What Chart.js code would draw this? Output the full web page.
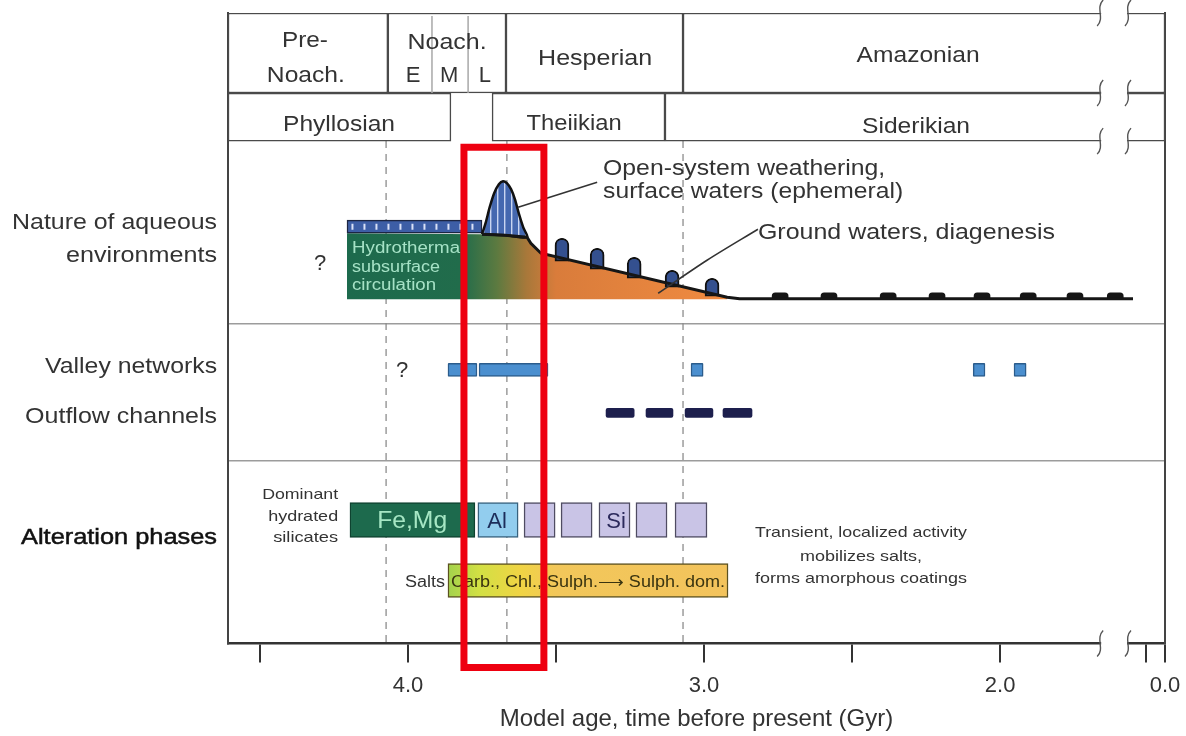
<!DOCTYPE html>
<html>
<head>
<meta charset="utf-8">
<script src="https://cdn.jsdelivr.net/npm/chart.js@4.4.1/dist/chart.umd.min.js"></script>
<style>
  html, body { margin: 0; padding: 0; background: #fff; }
  #wrap { width: 1186px; height: 736px; }
</style>
</head>
<body>
<div id="wrap"><canvas id="marsChart" width="1186" height="736"></canvas></div>
<script>
// Ages in Gyr (x axis is broken near the young end)
const axisMin = 1.443, axisMax = 4.608;
const tickValues = [4.5, 4.0, 3.5, 3.0, 2.5, 2.0, 1.507, 1.443];
const tickLabels = ['', '4.0', '', '3.0', '', '2.0', '', '0.0'];
const axisBreak = [1.662, 1.568];

const eraNames = ['Pre-Noach.', 'Noach.', 'Hesperian', 'Amazonian'];
const eraSpans = [[4.608, 4.068], [4.068, 3.669], [3.669, 3.071], [3.071, 1.443]];
const noachSubBounds = [3.919, 3.797];
const epochNames = ['Phyllosian', 'Theiikian', 'Siderikian'];
const epochSpans = [[4.608, 3.855], [3.716, 3.132], [3.132, 1.443]];
const boundaryAges = [4.074, 3.666, 3.071];

// aqueous environments profile: [age, level] (level grows downwards)
const hydroStrip = [4.206, 3.750];
const aqueousShape = [[4.206, 220], [3.750, 221], [3.672, 222], [3.598, 224], [3.585, 230], [3.551, 240],
  [2.922, 284], [2.922, 286], [4.206, 286], [4.206, 220]];
const groundLine = [[3.750, 221], [3.672, 222], [3.598, 224], [3.585, 230], [3.551, 240], [2.922, 284],
  [2.880, 285.5], [1.551, 285.5]];
const weatheringPeak = [[3.750, 221], [3.738, 210], [3.724, 194], [3.709, 180], [3.693, 171], [3.679, 168],
  [3.666, 170], [3.652, 176], [3.639, 186], [3.625, 201], [3.611, 214], [3.598, 224], [3.672, 222], [3.750, 221]];
const domeAges = [3.480, 3.361, 3.236, 3.108, 2.973];
const domeBase = [248, 256, 265, 274, 283];
const domeTop = [225, 235, 244, 257, 265];
const humpAges = [2.743, 2.578, 2.378, 2.213, 2.061, 1.905, 1.747, 1.611];
const humpBase = 286.5, humpTop = 279.5;

const valleySpans = [[3.865, 3.767], [3.760, 3.527], [3.044, 3.003], [2.091, 2.051], [1.953, 1.912]];
const outflowSpans = [[3.331, 3.236], [3.196, 3.105], [3.064, 2.970], [2.936, 2.838]];
const silicateNames = ['Fe,Mg', 'Al', '', '', 'Si', '', ''];
const silicateSpans = [[4.196, 3.774], [3.764, 3.628], [3.608, 3.503], [3.483, 3.378], [3.355, 3.250], [3.230, 3.125], [3.098, 2.990]];
const saltSpan = [3.865, 2.919];
const highlightAges = [3.811, 3.541];

// layout: vertical lanes (y units, 0 = top of frame)
const lanes = { era: 40, epoch: 104, strip: 213.5, valley: 356.5, outflow: 399.5, silicate: 506.5, salt: 567 };
const panelLines = [310, 447];
const breakRows = [0, 80, 128, 630];
const FONT = '"Liberation Sans", Arial, Helvetica, sans-serif';

const aqueousStops = [[4.206, '#1d6a4d'], [3.818, '#216c4b'], [3.70, '#5c7a40'], [3.60, '#a8783a'], [3.50, '#d97c3b'], [2.95, '#ef8a40']];
const saltStops = [[3.865, '#a3d24c'], [3.76, '#d2e044'], [3.62, '#f0d444'], [3.50, '#f2c75a'], [2.919, '#f3c35c']];

const annotations = [
  { text: 'Pre-', at: [4.348, 34], size: 22, align: 'center', width: 46 },
  { text: 'Noach.', at: [4.345, 69], size: 22, align: 'center', width: 78 },
  { text: 'Noach.', at: [3.868, 36], size: 22, align: 'center', width: 79 },
  { text: 'E', at: [3.983, 69], size: 22, align: 'center' },
  { text: 'M', at: [3.861, 69], size: 22, align: 'center' },
  { text: 'L', at: [3.740, 69], size: 22, align: 'center' },
  { text: 'Hesperian', at: [3.368, 52], size: 22, align: 'center', width: 114 },
  { text: 'Amazonian', at: [2.277, 49], size: 22, align: 'center', width: 123 },
  { text: 'Phyllosian', at: [4.233, 118], size: 22, align: 'center', width: 112 },
  { text: 'Theiikian', at: [3.439, 117], size: 22, align: 'center', width: 95 },
  { text: 'Siderikian', at: [2.284, 120], size: 22, align: 'center', width: 108 },
  { text: 'Nature of aqueous', at: [4.645, 216], size: 22, align: 'right', width: 205 },
  { text: 'environments', at: [4.645, 249], size: 22, align: 'right', width: 151 },
  { text: 'Valley networks', at: [4.645, 360], size: 22, align: 'right', width: 172 },
  { text: 'Outflow channels', at: [4.645, 410], size: 22, align: 'right', width: 192 },
  { text: 'Alteration phases', at: [4.645, 530], size: 22, align: 'right', width: 196, color: '#111', stroke: 0.5 },
  { text: '?', at: [4.297, 257], size: 22, align: 'center' },
  { text: '?', at: [4.020, 364], size: 22, align: 'center' },
  { text: 'Open-system weathering,', at: [3.341, 162], size: 22, align: 'left', width: 282 },
  { text: 'surface waters (ephemeral)', at: [3.341, 185], size: 22, align: 'left', width: 300 },
  { text: 'Ground waters, diagenesis', at: [2.818, 226], size: 22, align: 'left', width: 297 },
  { text: 'Hydrotherma', at: [4.189, 240], size: 16, align: 'left', width: 108, color: '#a6e2c6' },
  { text: 'subsurface', at: [4.189, 259], size: 16, align: 'left', width: 88, color: '#a6e2c6' },
  { text: 'circulation', at: [4.189, 277], size: 16, align: 'left', width: 84, color: '#a6e2c6' },
  { text: 'Dominant', at: [4.236, 486], size: 15, align: 'right', width: 76 },
  { text: 'hydrated', at: [4.236, 508], size: 15, align: 'right', width: 70 },
  { text: 'silicates', at: [4.236, 528], size: 15, align: 'right', width: 65 },
  { text: 'Fe,Mg', at: [3.986, 515], size: 23, align: 'center', width: 70, color: '#a6e6c4' },
  { text: 'Al', at: [3.699, 515], size: 22, align: 'center', color: '#1c2d5a' },
  { text: 'Si', at: [3.297, 515], size: 22, align: 'center', color: '#2c2a5c' },
  { text: 'Salts', at: [3.875, 573], size: 16, align: 'right', width: 40 },
  { text: 'Carb., Chl., Sulph.\u27F6 Sulph. dom.', at: [3.855, 573], size: 16, align: 'left', width: 274, color: '#3a3410' },
  { text: 'Transient, localized activity', at: [2.470, 524], size: 15, align: 'center', width: 212 },
  { text: 'mobilizes salts,', at: [2.470, 547], size: 15, align: 'center', width: 122 },
  { text: 'forms amorphous coatings', at: [2.470, 569], size: 15, align: 'center', width: 212 }
];

const leaderOpen = [[3.628, 194], [3.361, 169]];
const leaderGround = [[3.155, 280], [2.990, 247], [2.818, 216]];

// helpers
function pts(list) { return list.map(p => ({ x: p[0], y: p[1] })); }
function vline(age, top, bottom) { return [{ x: age, y: top }, { x: age, y: bottom }]; }
function spanBars(spans, lane) { return spans.map(s => ({ x: s, y: lane })); }

function hGradient(chart, stops, fallback) {
  if (!chart.chartArea) return fallback;
  const xs = chart.scales.x;
  const x0 = xs.getPixelForValue(stops[0][0]);
  const x1 = xs.getPixelForValue(stops[stops.length - 1][0]);
  const g = chart.ctx.createLinearGradient(x0, 0, x1, 0);
  stops.forEach(s => g.addColorStop(Math.min(1, Math.max(0, (xs.getPixelForValue(s[0]) - x0) / (x1 - x0))), s[1]));
  return g;
}

let stripePattern = null;
function getStripes(ctx) {
  if (stripePattern) return stripePattern;
  const pc = document.createElement('canvas');
  pc.width = 7; pc.height = 4;
  const g = pc.getContext('2d');
  g.fillStyle = '#4568b0';
  g.fillRect(0, 0, 7, 4);
  g.fillStyle = 'rgba(215,225,248,0.9)';
  g.fillRect(0, 0, 1.4, 4);
  stripePattern = ctx.createPattern(pc, 'repeat');
  return stripePattern;
}

function drawLabel(chart, a) {
  const ctx = chart.ctx;
  const px = chart.scales.x.getPixelForValue(a.at[0]);
  const py = chart.scales.y.getPixelForValue(a.at[1]);
  ctx.save();
  ctx.font = a.size + 'px ' + FONT;
  ctx.fillStyle = a.color || '#333';
  ctx.textBaseline = 'alphabetic';
  ctx.textAlign = 'left';
  const w = ctx.measureText(a.text).width;
  const sx = a.width ? a.width / w : 1;
  let ox = 0;
  if (a.align === 'center') ox = -w * sx / 2;
  else if (a.align === 'right') ox = -w * sx;
  ctx.translate(px + ox, py);
  ctx.scale(sx, 1);
  ctx.fillText(a.text, 0, 0);
  if (a.stroke) {
    ctx.strokeStyle = ctx.fillStyle;
    ctx.lineWidth = a.stroke;
    ctx.strokeText(a.text, 0, 0);
  }
  ctx.restore();
}

const diagramPlugin = {
  id: 'diagram',
  beforeDatasetDraw(chart, args) {
    // texts go right under the red highlight frame
    if (chart.data.datasets[args.index].label !== 'highlight') return;
    annotations.forEach(a => drawLabel(chart, a));
  },
  afterDraw(chart) {
    const ctx = chart.ctx;
    const xs = chart.scales.x, ys = chart.scales.y;
    const xa = xs.getPixelForValue(axisBreak[0]);
    const xb = xs.getPixelForValue(axisBreak[1]);
    ctx.save();
    breakRows.forEach(v => {
      const y = ys.getPixelForValue(v);
      ctx.fillStyle = '#fff';
      ctx.fillRect(xa + 1, y - 3, xb - xa - 2, 6);
      ctx.strokeStyle = '#555';
      ctx.lineWidth = 1.4;
      [xa, xb].forEach(x => {
        ctx.beginPath();
        ctx.moveTo(x + 3, y - 13);
        ctx.bezierCurveTo(x - 5, y - 5, x + 5, y + 5, x - 3, y + 13);
        ctx.stroke();
      });
    });
    ctx.restore();
  }
};

const lineBase = { type: 'line', pointRadius: 0, pointHoverRadius: 0, fill: false, tension: 0 };
const noBorder = 'rgba(0,0,0,0)';

const datasets = [
  ...boundaryAges.map(a => ({ ...lineBase, label: 'boundary', data: vline(a, 128, 630),
    borderColor: '#8c8c8c', borderWidth: 1.3, borderDash: [7, 6], order: 100 })),
  { type: 'bar', label: 'eras', indexAxis: 'y', grouped: false, data: spanBars(eraSpans, lanes.era),
    backgroundColor: '#fff', borderColor: '#4a4a4a', borderWidth: 1.5, borderSkipped: false, barThickness: 80, order: 97 },
  { type: 'bar', label: 'epochs', indexAxis: 'y', grouped: false, data: spanBars(epochSpans, lanes.epoch),
    backgroundColor: '#fff', borderColor: '#4a4a4a', borderWidth: 1.5, borderSkipped: false, barThickness: 48, order: 96 },
  ...noachSubBounds.map(a => ({ ...lineBase, label: 'noachian sub', data: vline(a, 3, 80),
    borderColor: '#a8a8a8', borderWidth: 1.5, order: 95 })),
  { ...lineBase, label: 'aqueous', data: pts(aqueousShape), fill: 'shape',
    backgroundColor: c => hGradient(c.chart, aqueousStops, '#1d6a4d'), borderColor: noBorder, borderWidth: 0, order: 80 },
  { type: 'bar', label: 'hydro strip', indexAxis: 'y', grouped: false, data: [{ x: hydroStrip, y: lanes.strip }],
    backgroundColor: '#3d5ea6', borderColor: '#1c2542', borderWidth: 1.5, borderSkipped: false, barThickness: 13, order: 79 },
  { ...lineBase, label: 'strip dots', data: [{ x: hydroStrip[0] - 0.015, y: lanes.strip }, { x: hydroStrip[1] + 0.02, y: lanes.strip }],
    borderColor: 'rgba(235,240,255,0.9)', borderWidth: 6, borderDash: [2, 10], order: 78 },
  { type: 'bar', label: 'domes', xAxisID: 'x2', grouped: false,
    data: domeAges.map((a, i) => ({ x: a, y: [domeBase[i], domeTop[i]] })),
    backgroundColor: '#34508f', borderColor: '#111', borderWidth: 2, borderSkipped: false,
    borderRadius: { topLeft: 7, topRight: 7, bottomLeft: 0, bottomRight: 0 }, barThickness: 14, order: 77 },
  { ...lineBase, label: 'peak', data: pts(weatheringPeak), fill: 'shape',
    backgroundColor: c => getStripes(c.chart.ctx), borderColor: '#111', borderWidth: 2.5, tension: 0.25, order: 75 },
  { type: 'bar', label: 'humps', xAxisID: 'x2', grouped: false,
    data: humpAges.map(a => ({ x: a, y: [humpBase, humpTop] })),
    backgroundColor: '#161616', borderColor: '#161616', borderWidth: 0, borderSkipped: false,
    borderRadius: { topLeft: 8, topRight: 8, bottomLeft: 0, bottomRight: 0 }, barThickness: 16, order: 72 },
  { ...lineBase, label: 'ground line', data: pts(groundLine), borderColor: '#161616', borderWidth: 3, order: 70 },
  { ...lineBase, label: 'leader open', data: pts(leaderOpen), borderColor: '#333', borderWidth: 1.6, order: 60 },
  { ...lineBase, label: 'leader ground', data: pts(leaderGround), borderColor: '#333', borderWidth: 1.6, tension: 0.3, order: 60 },
  { type: 'bar', label: 'valley networks', indexAxis: 'y', grouped: false, data: spanBars(valleySpans, lanes.valley),
    backgroundColor: '#4b8fcf', borderColor: '#2b5c8c', borderWidth: 1.5, borderSkipped: false, borderRadius: 1, barThickness: 13, order: 50 },
  { type: 'bar', label: 'outflow channels', indexAxis: 'y', grouped: false, data: spanBars(outflowSpans, lanes.outflow),
    backgroundColor: '#1d1f4d', borderColor: '#1d1f4d', borderWidth: 0, borderSkipped: false, borderRadius: 2, barThickness: 9, order: 50 },
  { type: 'bar', label: 'silicates', indexAxis: 'y', grouped: false, data: spanBars(silicateSpans, lanes.silicate),
    backgroundColor: silicateNames.map(n => n === 'Fe,Mg' ? '#1d6a4d' : n === 'Al' ? '#92cdee' : '#c9c4e6'),
    borderColor: silicateNames.map(n => n === 'Fe,Mg' ? '#0f4330' : n === 'Al' ? '#38627e' : '#4f4c62'),
    borderWidth: 1.5, borderSkipped: false, barThickness: 35, order: 50 },
  { type: 'bar', label: 'salts', indexAxis: 'y', grouped: false, data: [{ x: saltSpan, y: lanes.salt }],
    backgroundColor: c => hGradient(c.chart, saltStops, '#f2c75a'), borderColor: '#5b5120', borderWidth: 1.5,
    borderSkipped: false, barThickness: 34, order: 50 },
  { ...lineBase, label: 'highlight', clip: false,
    data: [{ x: highlightAges[0], y: 134 }, { x: highlightAges[1], y: 134 }, { x: highlightAges[1], y: 654 },
      { x: highlightAges[0], y: 654 }, { x: highlightAges[0], y: 134 }, { x: highlightAges[1], y: 134 }],
    borderColor: '#ee0010', borderWidth: 7, borderJoinStyle: 'miter', order: 0 }
];

new Chart(document.getElementById('marsChart'), {
  type: 'line',
  data: { datasets },
  options: {
    responsive: false,
    animation: false,
    events: [],
    devicePixelRatio: 1,
    layout: { padding: { left: 228, right: 21, top: 13, bottom: 9.6 } },
    plugins: { legend: { display: false }, tooltip: { enabled: false } },
    scales: {
      x: {
        type: 'linear', min: axisMin, max: axisMax, reverse: true, offset: false,
        afterBuildTicks: s => { s.ticks = tickValues.map(v => ({ value: v })); },
        // the "0.0" label may hang past the frame, so no extra side padding
        afterFit: s => { s.paddingLeft = 0; s.paddingRight = 0; },
        ticks: {
          autoSkip: false, maxRotation: 0, padding: 10, color: '#333',
          font: { family: FONT, size: 22 },
          callback: v => { const i = tickValues.indexOf(v); return i < 0 ? '' : tickLabels[i]; }
        },
        grid: { drawOnChartArea: false, drawTicks: true, tickLength: 19, color: '#333', lineWidth: 2, offset: false },
        border: { display: true, color: '#333', width: 2.5 },
        title: { display: true, text: 'Model age, time before present (Gyr)', color: '#333',
          font: { family: FONT, size: 24, lineHeight: 0.6 }, padding: { top: 3, bottom: 0 } }
      },
      x2: { type: 'linear', display: false, min: axisMin, max: axisMax, reverse: true, offset: false },
      y: {
        type: 'linear', min: 0, max: 630, reverse: true, offset: false,
        afterBuildTicks: s => { s.ticks = panelLines.map(v => ({ value: v })); },
        ticks: { display: false },
        grid: { drawTicks: false, color: '#9c9c9c', lineWidth: 1.5, offset: false },
        border: { display: true, color: '#444', width: 2 }
      },
      y2: {
        type: 'linear', position: 'right', offset: false,
        ticks: { display: false },
        grid: { display: false, drawTicks: false },
        border: { display: true, color: '#444', width: 2 }
      }
    }
  },
  plugins: [diagramPlugin]
});
</script>
</body>
</html>
